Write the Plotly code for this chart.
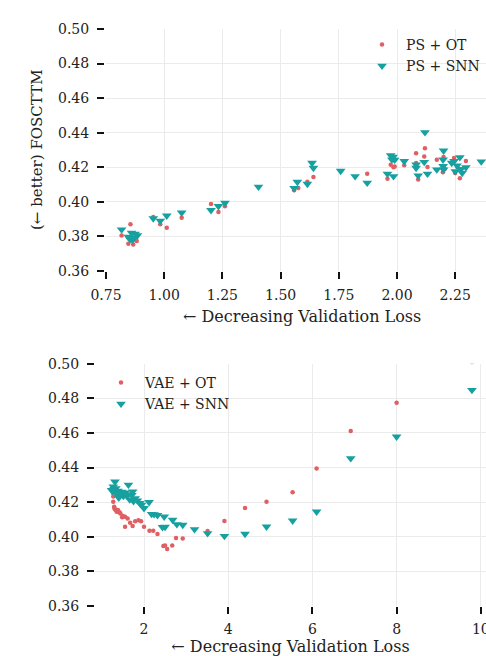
import plotly.graph_objects as go

# ---- data ----
ps_ot_x = [0.817,0.846,0.855,0.867,0.882,0.872,0.953,0.983,1.011,1.075,1.201,1.233,1.261,1.558,1.576,1.615,1.641,1.872,1.959,1.973,1.985,1.99,2.031,2.082,2.082,2.091,2.12,2.117,2.131,2.171,2.2,2.197,2.245,2.25,2.27,2.296,2.26,2.205]
ps_ot_y = [0.3806,0.3758,0.3871,0.3754,0.3773,0.379,0.3913,0.387,0.385,0.3908,0.3988,0.3942,0.3975,0.4067,0.408,0.4117,0.4144,0.4162,0.4133,0.4215,0.420,0.4205,0.4212,0.4281,0.4225,0.4129,0.431,0.4262,0.4202,0.4244,0.426,0.4171,0.4254,0.4167,0.4136,0.4237,0.42,0.419]

ps_snn_x = [0.817,0.846,0.860,0.867,0.875,0.885,0.853,0.864,0.953,0.983,1.011,1.075,1.201,1.233,1.261,1.405,1.558,1.572,1.615,1.635,1.641,1.758,1.82,1.872,1.959,1.973,1.978,1.983,1.99,1.985,2.031,2.082,2.082,2.091,2.12,2.117,2.131,2.171,2.2,2.198,2.198,2.2,2.245,2.25,2.27,2.28,2.296,2.362,2.235,2.258,2.275]
ps_snn_y = [0.384,0.3798,0.382,0.379,0.3815,0.3806,0.3783,0.3779,0.3904,0.389,0.392,0.3937,0.3952,0.3975,0.3994,0.4087,0.4079,0.4115,0.4104,0.4225,0.4196,0.4179,0.4148,0.411,0.4162,0.4269,0.4245,0.426,0.4243,0.4148,0.4235,0.4215,0.4196,0.4152,0.4402,0.423,0.4162,0.4187,0.4296,0.4244,0.4206,0.4187,0.4235,0.4177,0.4258,0.4167,0.42,0.4233,0.4225,0.421,0.419]

vae_ot_x = [9.79,8.0,6.91,6.10,5.53,4.91,4.40,3.91,3.51,2.92,2.76,2.67,2.55,2.46,2.50,2.32,2.22,2.13,2.0,1.93,1.87,1.79,1.73,1.67,1.61,1.55,1.55,1.48,1.44,1.40,1.36,1.33,1.31,1.29,1.27,1.27,1.28,1.30,1.35,1.42,1.50,1.38]
vae_ot_y = [0.501,0.4775,0.4611,0.4395,0.4257,0.4203,0.4166,0.4091,0.4033,0.399,0.3993,0.3949,0.3929,0.3947,0.395,0.4016,0.4035,0.4035,0.4058,0.409,0.4095,0.409,0.4062,0.4081,0.4106,0.4116,0.4058,0.4113,0.4135,0.4145,0.4150,0.4155,0.4159,0.4174,0.4203,0.4232,0.4245,0.4165,0.4145,0.414,0.412,0.4155]

vae_snn_x = [9.79,8.0,6.91,6.10,5.53,4.91,4.40,3.91,3.51,3.2,2.92,2.78,2.68,2.48,2.50,2.44,2.32,2.24,2.18,2.12,2.0,1.94,1.90,1.84,1.79,1.73,1.75,1.71,1.63,1.58,1.55,1.51,1.47,1.42,1.38,1.35,1.31,1.29,1.27,1.25,1.23,1.33,1.40,1.45,1.60,1.66]
vae_snn_y = [0.4848,0.4578,0.4453,0.4145,0.4093,0.4058,0.4016,0.4004,0.402,0.4043,0.4068,0.4072,0.4097,0.4116,0.4057,0.4055,0.4125,0.413,0.4131,0.420,0.4165,0.4184,0.4194,0.4209,0.4222,0.4261,0.4205,0.4241,0.430,0.4245,0.4255,0.4235,0.426,0.4245,0.4265,0.425,0.4318,0.4275,0.429,0.4265,0.427,0.428,0.4225,0.425,0.4235,0.4215]

top_xticks = [0.75, 1.00, 1.25, 1.50, 1.75, 2.00, 2.25]
bot_xticks = [2, 4, 6, 8, 10]
yticks = [0.36, 0.38, 0.40, 0.42, 0.44, 0.46, 0.48, 0.50]
x_title = "← Decreasing Validation Loss"
y_title = "(← better) FOSCTTM"

RED = "#df5f63"
TEAL = "#17a0a0"
FONT = "DejaVu Serif"
TXT = "#222222"
W, H = 486, 656

def px(x):
    return x / W

def py(y):
    return 1 - y / H

fig = go.Figure()
fig.add_trace(go.Scatter(x=ps_ot_x, y=ps_ot_y, mode="markers", name="PS + OT",
                         marker=dict(symbol="circle", size=4.5, color=RED),
                         xaxis="x", yaxis="y", legend="legend"))
fig.add_trace(go.Scatter(x=ps_snn_x, y=ps_snn_y, mode="markers", name="PS + SNN",
                         marker=dict(symbol="triangle-down", size=8.5, color=TEAL),
                         xaxis="x", yaxis="y", legend="legend"))
fig.add_trace(go.Scatter(x=vae_ot_x, y=vae_ot_y, mode="markers", name="VAE + OT",
                         marker=dict(symbol="circle", size=4.5, color=RED),
                         xaxis="x2", yaxis="y2", legend="legend2"))
fig.add_trace(go.Scatter(x=vae_snn_x, y=vae_snn_y, mode="markers", name="VAE + SNN",
                         marker=dict(symbol="triangle-down", size=8.5, color=TEAL),
                         xaxis="x2", yaxis="y2", legend="legend2"))

axis_common = dict(showgrid=True, gridcolor="#ebebeb", gridwidth=1, zeroline=False,
                   showline=False, ticks="outside", ticklen=7, tickwidth=2,
                   tickcolor="#111111", ticklabeloverflow="allow", automargin=False,
                   tickfont=dict(family=FONT, size=14, color=TXT))

legend_common = dict(xanchor="left", yanchor="top", bgcolor="rgba(0,0,0,0)",
                     font=dict(family=FONT, size=14, color=TXT),
                     itemsizing="trace", tracegroupgap=0, itemwidth=38)

fig.update_layout(
    width=W, height=H,
    margin=dict(l=0, r=0, t=0, b=0, autoexpand=False),
    paper_bgcolor="white", plot_bgcolor="white",
    font=dict(family=FONT, size=14, color=TXT),
    xaxis=dict(axis_common, domain=[px(106), 1], range=[0.75, 0.75 + (W - 106) / 232.8],
               tickvals=top_xticks, ticktext=[f"{v:.2f}" for v in top_xticks],
               ticklabelstandoff=4, anchor="y"),
    yaxis=dict(axis_common, domain=[py(271), py(29)], range=[0.36, 0.50],
               tickvals=yticks, ticktext=[f"{v:.2f}" for v in yticks],
               ticklabelstandoff=5, anchor="free", position=px(104)),
    xaxis2=dict(axis_common, domain=[px(95), 1], range=[0.836, 0.836 + (W - 95) / 42.1],
                tickvals=bot_xticks, ticktext=[str(v) for v in bot_xticks],
                ticklabelstandoff=3, anchor="y2",
                title=dict(text=x_title, standoff=10, font=dict(family=FONT, size=16, color=TXT))),
    yaxis2=dict(axis_common, domain=[py(606), py(363.7)], range=[0.36, 0.50],
                tickvals=yticks, ticktext=[f"{v:.2f}" for v in yticks],
                ticklabelstandoff=5, anchor="x2"),
    legend=dict(legend_common, x=px(358), y=py(29)),
    legend2=dict(legend_common, x=px(97), y=py(367)),
    showlegend=True,
)

fig.add_annotation(text=x_title, xref="paper", yref="paper",
                   x=px(302), y=py(317), xanchor="center", yanchor="middle",
                   showarrow=False, font=dict(family=FONT, size=16, color=TXT))
fig.add_annotation(text=y_title, xref="paper", yref="paper",
                   x=px(37), y=py(150), xanchor="center", yanchor="middle",
                   textangle=-90, showarrow=False, font=dict(family=FONT, size=15, color=TXT))

fig.write_html("out.html", config={"displayModeBar": False},
               post_script="document.body.style.margin='0';document.body.style.overflow='hidden';")
